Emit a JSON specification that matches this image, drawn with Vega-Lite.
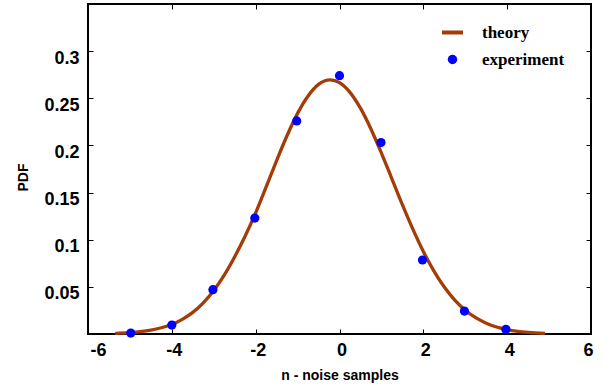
{
  "$schema": "https://vega.github.io/schema/vega-lite/v6.json",
  "width": 503,
  "height": 330,
  "autosize": "none",
  "padding": {"left": 88, "top": 4, "right": 14, "bottom": 53},
  "background": "white",
  "config": {
    "view": {"stroke": "black", "strokeWidth": 2},
    "axis": {
      "domain": false, "grid": false, "tickColor": "black", "tickWidth": 1, "tickSize": -5,
      "labelFont": "Liberation Sans", "labelFontWeight": "bold", "labelFontSize": 18, "labelColor": "black",
      "titleFont": "Liberation Sans", "titleFontWeight": "bold", "titleFontSize": 14, "titleColor": "black"
    }
  },
  "datasets": {
    "theory": [
      {"n": -5.35, "pdf": 0.0007, "series": "theory"},
      {"n": -5.0, "pdf": 0.0015, "series": "theory"},
      {"n": -4.75, "pdf": 0.0025, "series": "theory"},
      {"n": -4.5, "pdf": 0.0041, "series": "theory"},
      {"n": -4.25, "pdf": 0.0066, "series": "theory"},
      {"n": -4.0, "pdf": 0.0101, "series": "theory"},
      {"n": -3.75, "pdf": 0.0155, "series": "theory"},
      {"n": -3.5, "pdf": 0.0229, "series": "theory"},
      {"n": -3.25, "pdf": 0.0330, "series": "theory"},
      {"n": -3.0, "pdf": 0.0462, "series": "theory"},
      {"n": -2.75, "pdf": 0.0625, "series": "theory"},
      {"n": -2.5, "pdf": 0.0820, "series": "theory"},
      {"n": -2.25, "pdf": 0.1040, "series": "theory"},
      {"n": -2.0, "pdf": 0.1285, "series": "theory"},
      {"n": -1.75, "pdf": 0.1560, "series": "theory"},
      {"n": -1.5, "pdf": 0.1840, "series": "theory"},
      {"n": -1.25, "pdf": 0.2105, "series": "theory"},
      {"n": -1.0, "pdf": 0.2340, "series": "theory"},
      {"n": -0.75, "pdf": 0.2525, "series": "theory"},
      {"n": -0.5, "pdf": 0.2648, "series": "theory"},
      {"n": -0.22, "pdf": 0.2696, "series": "theory"},
      {"n": 0.0, "pdf": 0.2666, "series": "theory"},
      {"n": 0.25, "pdf": 0.2563, "series": "theory"},
      {"n": 0.5, "pdf": 0.2395, "series": "theory"},
      {"n": 0.75, "pdf": 0.2175, "series": "theory"},
      {"n": 1.0, "pdf": 0.1919, "series": "theory"},
      {"n": 1.25, "pdf": 0.1646, "series": "theory"},
      {"n": 1.5, "pdf": 0.1372, "series": "theory"},
      {"n": 1.75, "pdf": 0.1112, "series": "theory"},
      {"n": 2.0, "pdf": 0.0875, "series": "theory"},
      {"n": 2.25, "pdf": 0.0670, "series": "theory"},
      {"n": 2.5, "pdf": 0.0498, "series": "theory"},
      {"n": 2.75, "pdf": 0.0360, "series": "theory"},
      {"n": 3.0, "pdf": 0.0253, "series": "theory"},
      {"n": 3.25, "pdf": 0.0173, "series": "theory"},
      {"n": 3.5, "pdf": 0.0115, "series": "theory"},
      {"n": 3.75, "pdf": 0.0074, "series": "theory"},
      {"n": 4.0, "pdf": 0.0046, "series": "theory"},
      {"n": 4.25, "pdf": 0.0028, "series": "theory"},
      {"n": 4.5, "pdf": 0.0017, "series": "theory"},
      {"n": 4.9, "pdf": 0.0007, "series": "theory"}
    ],
    "experiment": [
      {"n": -4.98, "pdf": 0.001, "series": "experiment"},
      {"n": -4.0, "pdf": 0.0095, "series": "experiment"},
      {"n": -3.02, "pdf": 0.047, "series": "experiment"},
      {"n": -2.02, "pdf": 0.123, "series": "experiment"},
      {"n": -1.02, "pdf": 0.226, "series": "experiment"},
      {"n": 0.0, "pdf": 0.274, "series": "experiment"},
      {"n": 0.99, "pdf": 0.203, "series": "experiment"},
      {"n": 1.98, "pdf": 0.0785, "series": "experiment"},
      {"n": 2.98, "pdf": 0.0243, "series": "experiment"},
      {"n": 3.97, "pdf": 0.0049, "series": "experiment"}
    ]
  },
  "layer": [
    {
      "data": {"name": "theory"},
      "mark": {"type": "line", "strokeWidth": 3.3, "interpolate": "monotone"},
      "encoding": {
        "x": {"field": "n", "type": "quantitative", "scale": {"domain": [-6, 6], "nice": false},
          "axis": {"orient": "bottom", "values": [-6, -4, -2, 0, 2, 4, 6], "labelExpr": "'' + datum.value", "labelPadding": 12, "labelOffset": 2, "title": "n - noise samples", "titleY": 45, "titleBaseline": "alphabetic"}},
        "y": {"field": "pdf", "type": "quantitative", "scale": {"domain": [0, 0.35], "nice": false},
          "axis": {"orient": "left", "values": [0.05, 0.1, 0.15, 0.2, 0.25, 0.3], "labelExpr": "'' + datum.value", "labelPadding": 14, "labelOffset": 7, "title": "PDF", "titleX": -61, "titleY": 173, "titleAlign": "center", "titleBaseline": "alphabetic", "titleAngle": -90}},
        "color": {"field": "series", "type": "nominal",
          "scale": {"domain": ["theory", "experiment"], "range": ["#a33c06", "#0000ff"]},
          "legend": {
            "orient": "none", "legendX": 356, "legendY": 20, "title": null, "padding": 0,
            "labelFont": "Liberation Serif", "labelFontWeight": "bold", "labelFontSize": 17, "labelColor": "black",
            "labelOffset": 21, "rowPadding": 9, "symbolSize": 441,
            "encode": {"symbols": {"update": {
              "shape": {"signal": "datum.value === 'theory' ? 'stroke' : 'circle'"},
              "size": {"signal": "datum.value === 'theory' ? 441 : 90"},
              "strokeWidth": {"signal": "datum.value === 'theory' ? 4 : 0"},
              "fill": {"signal": "datum.value === 'theory' ? 'transparent' : '#0000ff'"},
              "stroke": {"signal": "datum.value === 'theory' ? '#a33c06' : '#0000ff'"},
              "opacity": {"value": 1}
            }}}
          }}
      }
    },
    {
      "data": {"name": "experiment"},
      "mark": {"type": "point", "filled": true, "size": 85, "opacity": 1},
      "encoding": {
        "x": {"field": "n", "type": "quantitative", "axis": {"orient": "top", "labels": false, "title": null, "values": [-4, -2, 0, 2, 4]}},
        "y": {"field": "pdf", "type": "quantitative", "axis": {"orient": "right", "labels": false, "title": null, "values": [0.05, 0.1, 0.15, 0.2, 0.25, 0.3]}},
        "color": {"field": "series", "type": "nominal"}
      }
    }
  ],
  "resolve": {"axis": {"x": "independent", "y": "independent"}}
}
